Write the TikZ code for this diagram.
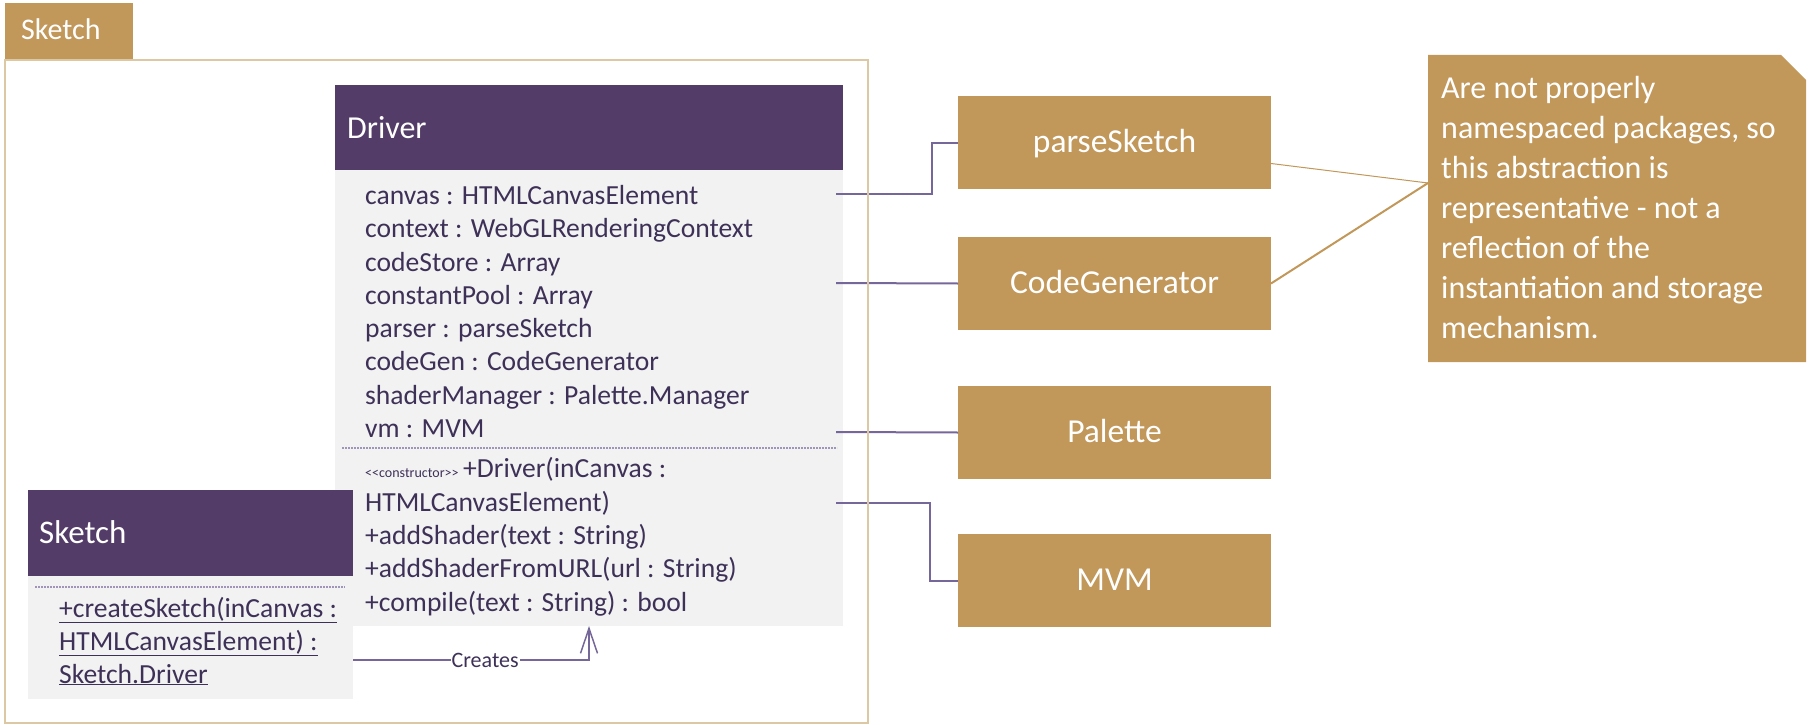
\documentclass[tikz,border=0pt]{standalone}
\usepackage{fontspec}
\setmainfont{Carlito}
\usetikzlibrary{arrows.meta}
\definecolor{hdr}{HTML}{543C68}
\definecolor{gold}{HTML}{C1975A}
\definecolor{bodyg}{HTML}{F2F2F2}
\definecolor{txt}{HTML}{3E3158}
\definecolor{conn}{HTML}{76679A}
\definecolor{framec}{HTML}{DCC8A2}
\tikzset{
  box/.style={inner sep=0pt, outer sep=0pt, anchor=north west},
  hdrbox/.style={box, fill=hdr},
  bodybox/.style={box, fill=bodyg},
  hdrtxt/.style={inner sep=0pt, anchor=base west, text=white, font=\fontsize{32}{38}\selectfont},
  mem/.style={inner sep=0pt, anchor=base west, text=txt, font=\fontsize{27.6}{33}\selectfont},
  pkg/.style={box, fill=gold, minimum width=313pt, minimum height=93pt, text=white,
    text height=20pt, text depth=0pt, font=\fontsize{33.5}{38}\selectfont},
  notetxt/.style={inner sep=0pt, anchor=base west, text=white, font=\fontsize{32}{40}\selectfont},
  connline/.style={draw=conn, line width=2pt},
  sep/.style={draw=conn!70, line width=1.2pt, dash pattern=on 2pt off 1pt},
}
\begin{document}
\begin{tikzpicture}[x=1pt,y=-1pt]
\useasboundingbox (0,0) rectangle (1815,725);
% package frame
\node[box, fill=gold, minimum width=128pt, minimum height=57pt] (tab) at (5,3) {};
\node[inner sep=0pt, anchor=base west, text=white, font=\fontsize{30}{36}\selectfont] (tabt) at (21,40) {Sketch};
\node[box, draw=framec, line width=2pt, minimum width=863pt, minimum height=663pt] (frame) at (5,60) {};
% Driver class
\node[hdrbox, minimum width=508pt, minimum height=85pt] (drvh) at (335,85) {};
\node[hdrtxt] (drvt) at (347,138) {Driver};
\node[bodybox, minimum width=508pt, minimum height=456pt] (drvb) at (335,170) {};
\node[mem] (a1) at (365,204) {canvas : HTMLCanvasElement};
\node[mem] (a2) at (365,237) {context : WebGLRenderingContext};
\node[mem] (a3) at (365,271) {codeStore : Array};
\node[mem] (a4) at (365,304) {constantPool : Array};
\node[mem] (a5) at (365,337) {parser : parseSketch};
\node[mem] (a6) at (365,370) {codeGen : CodeGenerator};
\node[mem] (a7) at (365,404) {shaderManager : Palette.Manager};
\node[mem] (a8) at (365,437) {vm : MVM};
\coordinate (d1) at (342,448);
\coordinate (d2) at (837,448);
\draw[sep] (d1) -- (d2);
\node[mem] (o1) at (365,477) {{\fontsize{14}{16}\selectfont <\kern0pt<constructor>\kern0pt>}\,+Driver(inCanvas :};
\node[mem] (o2) at (365,511) {HTMLCanvasElement)};
\node[mem] (o3) at (365,544) {+addShader(text : String)};
\node[mem] (o4) at (365,577) {+addShaderFromURL(url : String)};
\node[mem] (o5) at (365,611) {+compile(text : String) : bool};
% Sketch class
\node[hdrbox, minimum width=325pt, minimum height=86pt] (skh) at (28,490) {};
\node[hdrtxt, font=\fontsize{33}{38}\selectfont] (skt) at (39,543) {Sketch};
\node[bodybox, minimum width=325pt, minimum height=123pt] (skb) at (28,576) {};
\coordinate (s1) at (35,587);
\coordinate (s2) at (345,587);
\draw[sep] (s1) -- (s2);
\node[mem] (m1) at (59,617) {\underline{+createSketch(inCanvas :}};
\node[mem] (m2) at (59,650) {\underline{HTMLCanvasElement) :}};
\node[mem] (m3) at (59,683) {\underline{Sketch.Driver}};
% Creates dependency
\coordinate (cs) at (353,660);
\coordinate (ce) at (589,626);
\draw[draw=conn, line width=1.5pt, -{Straight Barb[length=25pt,width=17pt,line width=1.5pt]}] (cs) -| (ce)
  node[pos=0.28, fill=white, inner sep=1pt, text=txt, font=\fontsize{22}{26}\selectfont] (crl) {Creates};
% packages
\node[pkg] (ps) at (958,96) {parseSketch};
\node[pkg] (cg) at (958,237) {CodeGenerator};
\node[pkg] (pal) at (958,386) {Palette};
\node[pkg] (mvm) at (958,534) {MVM};
% connectors
\coordinate (e1) at (836,194);
\coordinate (e2) at (836,283);
\coordinate (e3) at (836,432);
\coordinate (e4) at (836,503);
\draw[connline] (e1) -- ++(96,0) |- (ps.west);
\draw[connline] (e2) -- (cg.west);
\draw[connline] (e3) -- (pal.west);
\draw[connline] (e4) -- ++(94,0) |- (mvm.west);
% frame border on top of lines
\draw[framec, line width=2pt] (frame.north east) -- (frame.south east);
% note
\fill[gold] (1428,55) -- (1781,55) -- (1806,80) -- (1806,362) -- (1428,362) -- cycle;
\coordinate (nt) at (1428,183);
\node[notetxt] (n1) at (1441,98) {Are not properly};
\node[notetxt] (n2) at (1441,138) {namespaced packages, so};
\node[notetxt] (n3) at (1441,178) {this abstraction is};
\node[notetxt] (n4) at (1441,218) {representative - not a};
\node[notetxt] (n5) at (1441,258) {reflection of the};
\node[notetxt] (n6) at (1441,298) {instantiation and storage};
\node[notetxt] (n7) at (1441,338) {mechanism.};
\draw[gold, line width=1pt] ([yshift=-21pt]ps.east) -- (nt);
\draw[gold, line width=2pt] (cg.east) -- (nt);
\end{tikzpicture}
\end{document}
